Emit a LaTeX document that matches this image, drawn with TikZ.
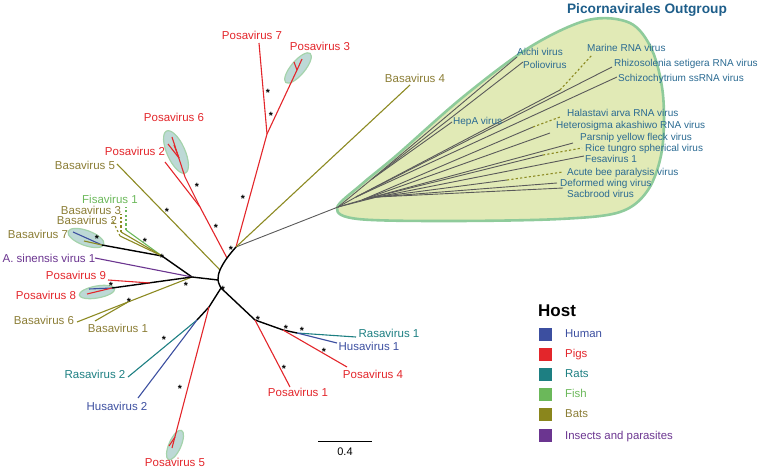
\documentclass[tikz,border=0pt]{standalone}
\usepackage{fontspec}
\setmainfont{Liberation Sans}
\definecolor{pig}{HTML}{E3262B}
\definecolor{batline}{HTML}{8C8A22}
\definecolor{battext}{HTML}{8B7D35}
\definecolor{fish}{HTML}{6BB85A}
\definecolor{rat}{HTML}{1D7F82}
\definecolor{human}{HTML}{3C4FA0}
\definecolor{insect}{HTML}{6B3590}
\definecolor{outtext}{HTML}{2A6A92}
\definecolor{titlec}{HTML}{1E5E8A}
\definecolor{grayline}{HTML}{5A5A5A}
\definecolor{shapefill}{HTML}{E1EAB6}
\definecolor{shapeline}{HTML}{8FCB9B}
\definecolor{ellfill}{HTML}{BDD9D6}
\definecolor{ellline}{HTML}{A4D3AB}
\definecolor{legbat}{HTML}{8A861C}
\begin{document}
\begin{tikzpicture}[x=1pt,y=-1pt,
  line join=round,
  blk/.style={draw=black,line width=1.4pt},
  pigl/.style={draw=pig,line width=1.1pt},
  batl/.style={draw=batline,line width=1.1pt},
  fishl/.style={draw=fish,line width=1.1pt},
  ratl/.style={draw=rat,line width=1.1pt},
  huml/.style={draw=human,line width=1.1pt},
  insl/.style={draw=insect,line width=1.1pt},
  grl/.style={draw=grayline,line width=0.9pt},
  dashl/.style={dash pattern=on 2.2pt off 2.2pt},
  ell/.style={fill=ellfill,draw=ellline,line width=1.2pt},
  lbl/.style={inner sep=0pt,text height=0.72em,text depth=0pt,font=\fontsize{11.5}{13}\selectfont},
  olbl/.style={inner sep=0pt,text height=0.72em,text depth=0pt,font=\fontsize{10}{11}\selectfont,text=outtext,anchor=west},
  starn/.style={inner sep=0pt,font=\fontsize{10.5}{11}\bfseries,yshift=-2.2pt},
  sq/.style={minimum size=13pt,inner sep=0pt,draw=none},
  leg/.style={inner sep=0pt,text height=0.72em,text depth=0pt,font=\fontsize{11.4}{13}\selectfont,anchor=west}]
\useasboundingbox (0,0) rectangle (760,473);

% ---------- outgroup shape ----------
\draw[fill=shapefill,draw=shapeline,line width=2.6pt]
  plot[smooth cycle,tension=0.55] coordinates {(337,208) (362,184) (397,155) (463,97) (530,47) (588,20) (630,23) (652,50) (663,95) (662,150) (648,190) (620,212) (560,219) (450,221) (358,219)};
\node[inner sep=0pt,font=\fontsize{13.7}{15}\bfseries,text=titlec] (title) at (647,10) {Picornavirales Outgroup};

% ---------- clade ellipses ----------
\draw[ell,rotate around={-66:(176,152)}] (176,152) ellipse (23pt and 9pt);
\draw[ell,rotate around={50:(298,68)}] (298,68) ellipse (19pt and 7pt);
\draw[ell,rotate around={-20:(86,238)}] (86,238) ellipse (19pt and 7.5pt);
\draw[ell,rotate around={10:(97,292)}] (97,292) ellipse (18pt and 6pt);
\draw[ell,rotate around={66:(175,445)}] (175,445) ellipse (16pt and 6pt);

% ---------- coordinates ----------
\coordinate (T) at (236,247);
\coordinate (N1) at (227,258);
\coordinate (N2) at (220,270);
\coordinate (N3) at (218,280);
\coordinate (N4) at (221,288);
\coordinate (Pu) at (267,134);
\coordinate (P7e) at (259,43);
\coordinate (P3n) at (297,70);
\coordinate (P3a) at (294,62);
\coordinate (P3b) at (302,59);
\coordinate (B4e) at (410,85);
\coordinate (O) at (338,207);
\coordinate (Pn) at (200,207);
\coordinate (P2e) at (165,162);
\coordinate (P6n) at (185,177);
\coordinate (P6e) at (172,137);
\coordinate (P6m) at (179,158);
\coordinate (P6a) at (168,144);
\coordinate (P6b) at (174,145);
\coordinate (B5e) at (117,164);
\coordinate (L) at (192,277);
\coordinate (L2) at (162,256);
\coordinate (B7e) at (102,245);
\coordinate (B7b) at (73,232);
\coordinate (B7o) at (84,241);
\coordinate (P8e) at (112,288);
\coordinate (P8b) at (89,289);
\coordinate (P8r) at (87,294);
\coordinate (P9s) at (150,283);
\coordinate (P9e) at (108,280);
\coordinate (Ase) at (95,258);
\coordinate (Bs) at (128,302);
\coordinate (B6e) at (77,322);
\coordinate (B1e) at (95,321);
\coordinate (Fg) at (126,230);
\coordinate (Fge) at (126,207);
\coordinate (F3) at (121,232);
\coordinate (F3e) at (121,214);
\coordinate (F2) at (120,236);
\coordinate (F2e) at (112,219);
\coordinate (Bn) at (209,307);
\coordinate (Rn) at (197,320);
\coordinate (P5e) at (172,448);
\coordinate (P5m) at (175,437);
\coordinate (P5f) at (169,446);
\coordinate (R2e) at (128,377);
\coordinate (H2e) at (138,398);
\coordinate (Rp1) at (255,320);
\coordinate (Rp4) at (283,330);
\coordinate (Rr) at (297,333);
\coordinate (P1e) at (290,387);
\coordinate (P4e) at (347,367);
\coordinate (R1e) at (356,337);
\coordinate (H1e) at (337,343);
% outgroup
\coordinate (Qa) at (372,179);
\coordinate (Qd) at (356,197);
\coordinate (Qc) at (362,200);
\coordinate (Qb) at (377,197);
\coordinate (Aie) at (517,57);
\coordinate (Poe) at (523,62);
\coordinate (Hee) at (452,122);
\coordinate (Mas) at (560,90);
\coordinate (Mae) at (592,55);
\coordinate (Rhe) at (612,67);
\coordinate (Sce) at (617,77);
\coordinate (Has) at (533,127);
\coordinate (Hae) at (560,117);
\coordinate (Hte) at (550,133);
\coordinate (Pae) at (573,143);
\coordinate (Rts) at (543,155);
\coordinate (Rte) at (582,148);
\coordinate (Fee) at (584,156);
\coordinate (Acs) at (507,180);
\coordinate (Ace) at (563,172);
\coordinate (Dee) at (557,183);
\coordinate (Sae) at (563,188);

% ---------- outgroup branches ----------
\draw[grl] (T) -- (O);
\draw[grl] (O) -- (Qa) -- (Aie);
\draw[grl] (Qa) -- (Poe);
\draw[grl] (Qa) -- (Hee);
\draw[grl] (O) -- (Qd) -- (Mas);
\draw[grl] (Qd) -- (Rhe);
\draw[grl] (Qd) -- (Sce);
\draw[grl] (O) -- (Qc) -- (Has);
\draw[grl] (Qc) -- (Hte);
\draw[grl] (Qc) -- (Pae);
\draw[grl] (Qc) -- (Rts);
\draw[grl] (Qc) -- (Fee);
\draw[grl] (O) -- (Qb) -- (Acs);
\draw[grl] (Qb) -- (Dee);
\draw[grl] (Qb) -- (Sae);
\draw[batl,dashl] (Mas) -- (Mae);
\draw[batl,dashl] (Has) -- (Hae);
\draw[batl,dashl] (Rts) -- (Rte);
\draw[batl,dashl] (Acs) -- (Ace);

% ---------- main tree ----------
\draw[pigl] (T) -- (Pu) -- (P7e);
\draw[pigl] (Pu) -- (P3n) -- (P3a);
\draw[pigl] (P3n) -- (P3b);
\draw[batl] (T) -- (B4e);
\draw[pigl] (N1) -- (Pn) -- (P2e);
\draw[pigl] (Pn) -- (P6n) -- (P6e);
\draw[pigl] (P6m) -- (P6a);
\draw[pigl] (P6m) -- (P6b);
\draw[batl] (N2) -- (B5e);
\draw[blk] plot[smooth,tension=0.6] coordinates {(T) (N1) (N2) (N3) (N4)};
\draw[blk] (N3) -- (L) -- (L2) -- (B7e);
\draw[huml] (B7e) -- (B7b);
\draw[batl] (B7e) -- (B7o);
\draw[insl] (L) -- (Ase);
\draw[batl] (L) -- (Bs) -- (B6e);
\draw[batl] (Bs) -- (B1e);
\draw[blk] (L) -- (P8e);
\draw[huml] (P8e) -- (P8b);
\draw[pigl] (P8e) -- (P8r);
\draw[pigl] (P9s) -- (P9e);
\draw[fishl] (L2) -- (Fg);
\draw[fishl,dashl] (Fg) -- (Fge);
\draw[batl] (L2) -- (F3);
\draw[batl,dashl] (F3) -- (F3e);
\draw[batl] (L2) -- (F2);
\draw[batl,dashl] (F2) -- (F2e);
\draw[blk] (N4) -- (Bn) -- (Rn);
\draw[pigl] (Bn) -- (P5e);
\draw[pigl] (P5m) -- (P5f);
\draw[ratl] (Rn) -- (R2e);
\draw[huml] (Rn) -- (H2e);
\draw[blk] (N4) -- (Rp1) -- (Rp4) -- (Rr);
\draw[pigl] (Rp1) -- (P1e);
\draw[pigl] (Rp4) -- (P4e);
\draw[ratl] (Rr) -- (R1e);
\draw[huml] (Rr) -- (H1e);

% ---------- stars ----------
\foreach \a/\b [count=\i] in {268/91,271/114,243/197,197/185,216/226,167/210,145/240,162/256,97/237,231/248,223/288,186/284,111/284,129/300,164/338,180/387,258/318,286/327,302/329,324/350,284/367}
  \node[starn] (st\i) at (\a,\b) {*};

% ---------- tip labels ----------
\node[lbl,text=pig] (lP7) at (252,36) {Posavirus 7};
\node[lbl,text=pig] (lP3) at (320,47) {Posavirus 3};
\node[lbl,text=pig] (lP6) at (174,118) {Posavirus 6};
\node[lbl,text=pig] (lP2) at (135,152) {Posavirus 2};
\node[lbl,text=battext] (lB4) at (415,79) {Basavirus 4};
\node[lbl,text=battext] (lB5) at (85,166) {Basavirus 5};
\node[lbl,text=fish] (lF1) at (110,200) {Fisavirus 1};
\node[lbl,text=battext] (lB3) at (91,211) {Basavirus 3};
\node[lbl,text=battext] (lB2) at (87,221) {Basavirus 2};
\node[lbl,text=battext] (lB7) at (38,235) {Basavirus 7};
\node[lbl,text=insect] (lAs) at (49,259) {A. sinensis virus 1};
\node[lbl,text=pig] (lP9) at (76,276) {Posavirus 9};
\node[lbl,text=pig] (lP8) at (46,296) {Posavirus 8};
\node[lbl,text=battext] (lB6) at (44,321) {Basavirus 6};
\node[lbl,text=battext] (lB1) at (118,329) {Basavirus 1};
\node[lbl,text=rat] (lR2) at (95,375) {Rasavirus 2};
\node[lbl,text=human] (lH2) at (117,407) {Husavirus 2};
\node[lbl,text=pig] (lP5) at (175,463) {Posavirus 5};
\node[lbl,text=pig] (lP1) at (298,393) {Posavirus 1};
\node[lbl,text=pig] (lP4) at (373,375) {Posavirus 4};
\node[lbl,text=rat] (lR1) at (389,334) {Rasavirus 1};
\node[lbl,text=human] (lH1) at (369,347) {Husavirus 1};

% ---------- outgroup labels ----------
\node[olbl] (oAi) at (517,52) {Aichi virus};
\node[olbl] (oPo) at (523,65) {Poliovirus};
\node[olbl] (oHe) at (453,121) {HepA virus};
\node[olbl] (oMa) at (587,48) {Marine RNA virus};
\node[olbl] (oRh) at (614,63) {Rhizosolenia setigera RNA virus};
\node[olbl] (oSc) at (618,78) {Schizochytrium ssRNA virus};
\node[olbl] (oHa) at (567,113) {Halastavi arva RNA virus};
\node[olbl] (oHt) at (556,125) {Heterosigma akashiwo RNA virus};
\node[olbl] (oPa) at (580,137) {Parsnip yellow fleck virus};
\node[olbl] (oRt) at (585,148) {Rice tungro spherical virus};
\node[olbl] (oFe) at (585,159) {Fesavirus 1};
\node[olbl] (oAc) at (567,172) {Acute bee paralysis virus};
\node[olbl] (oDe) at (560,183) {Deformed wing virus};
\node[olbl] (oSa) at (567,194) {Sacbrood virus};

% ---------- scale bar ----------
\coordinate (sb1) at (318,441);
\coordinate (sb2) at (372,441);
\draw[line width=0.8pt] (sb1) -- (sb2);
\node[lbl,font=\fontsize{11}{12}\selectfont] (sbl) at (345,452) {0.4};

% ---------- legend ----------
\node[inner sep=0pt,text height=0.72em,text depth=0pt,font=\fontsize{17}{19}\bfseries,anchor=west] (host) at (538,313) {Host};
\node[sq,fill=human] (sq1) at (545,334) {};
\node[sq,fill=pig] (sq2) at (545,354) {};
\node[sq,fill=rat] (sq3) at (545,374) {};
\node[sq,fill=fish] (sq4) at (545,394) {};
\node[sq,fill=legbat] (sq5) at (545,414) {};
\node[sq,fill=insect] (sq6) at (545,435) {};
\node[leg,text=human] (lg1) at (565,334) {Human};
\node[leg,text=pig] (lg2) at (565,354) {Pigs};
\node[leg,text=rat] (lg3) at (565,374) {Rats};
\node[leg,text=fish] (lg4) at (565,394) {Fish};
\node[leg,text=battext] (lg5) at (565,414) {Bats};
\node[leg,text=insect] (lg6) at (565,436) {Insects and parasites};
\end{tikzpicture}
\end{document}
